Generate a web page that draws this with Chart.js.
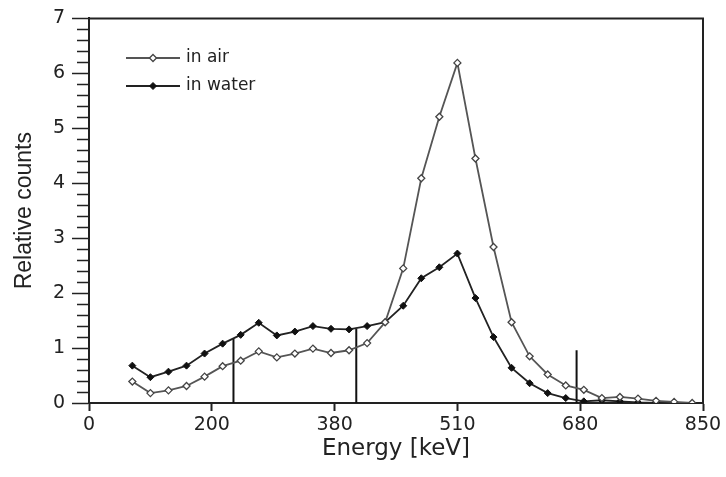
<!DOCTYPE html>
<html>
<head>
<meta charset="utf-8">
<script src="https://cdn.jsdelivr.net/npm/chart.js@4"></script>
<style>
  html, body { margin: 0; padding: 0; background: #fff; }
  #wrap { width: 726px; height: 477px; }
</style>
</head>
<body>
<div id="wrap"><canvas id="myChart" width="726" height="477"></canvas></div>
<script>
const energies = [60, 85, 110, 135, 160, 185, 210, 235, 260, 285, 310, 335, 360, 385, 410, 435,
    460, 485, 510, 535, 560, 585, 610, 635, 660, 685, 710, 735, 760, 785, 810, 835];
const inAir = [0.39, 0.18, 0.23, 0.31, 0.48, 0.67, 0.77, 0.94, 0.83, 0.90, 0.99, 0.91, 0.96, 1.09, 1.47, 2.45,
    4.09, 5.21, 6.19, 4.45, 2.84, 1.47, 0.85, 0.52, 0.32, 0.24, 0.09, 0.11, 0.08, 0.04, 0.02, 0.0];
const inWater = [0.68, 0.47, 0.57, 0.68, 0.90, 1.08, 1.24, 1.46, 1.23, 1.30, 1.40, 1.35, 1.34, 1.40, 1.47, 1.77,
    2.27, 2.47, 2.72, 1.91, 1.20, 0.64, 0.36, 0.18, 0.09, 0.03, 0.05, 0.03, 0.01, 0.0, 0.0];
const xTickLabels = ['0', '200', '380', '510', '680', '850'];
// energy window markers
const windowEdges = [200, 370, 675];
const windowHeights = [1.17, 1.35, 0.96];

const toPoints = (ys) => ys.map((y, i) => ({x: energies[i], y: y}));

const datasets = [
    {
        label: 'in air',
        data: toPoints(inAir),
        borderColor: '#555',
        borderWidth: 1.8,
        pointStyle: 'rectRot',
        pointRadius: 3.5,
        pointBackgroundColor: '#fff',
        pointBorderColor: '#444',
        pointBorderWidth: 1.3,
    },
    {
        label: 'in water',
        data: toPoints(inWater),
        borderColor: '#222',
        borderWidth: 1.8,
        pointStyle: 'rectRot',
        pointRadius: 3.5,
        pointBackgroundColor: '#111',
        pointBorderColor: '#111',
        pointBorderWidth: 1,
    },
];
windowEdges.forEach((e, i) => {
    datasets.push({
        label: 'window' + i,
        data: [{x: e, y: 0}, {x: e, y: windowHeights[i]}],
        borderColor: '#111',
        borderWidth: 2,
        pointRadius: 0,
    });
});

const frameAndTicks = {
    id: 'frameAndTicks',
    afterDraw(chart) {
        const {ctx, chartArea: a, scales: {y}} = chart;
        ctx.save();
        ctx.strokeStyle = '#222';
        ctx.lineWidth = 2;
        ctx.beginPath();
        ctx.moveTo(a.left, a.top);
        ctx.lineTo(a.right, a.top);
        ctx.lineTo(a.right, a.bottom);
        ctx.stroke();
        // minor ticks on y
        ctx.lineWidth = 1.5;
        ctx.beginPath();
        for (let v = 0.2; v < 7; v += 0.2) {
            if (Math.abs(v - Math.round(v)) < 0.01) continue;
            const py = Math.round(y.getPixelForValue(v)) + 0.5;
            ctx.moveTo(a.left - 12, py);
            ctx.lineTo(a.left, py);
        }
        ctx.stroke();
        // legend
        const items = [
            {text: 'in air', y: 58, ds: datasets[0]},
            {text: 'in water', y: 86, ds: datasets[1]},
        ];
        ctx.font = '17px "DejaVu Sans"';
        ctx.textBaseline = 'middle';
        items.forEach(it => {
            ctx.strokeStyle = it.ds.borderColor;
            ctx.lineWidth = 1.8;
            ctx.beginPath();
            ctx.moveTo(126, it.y);
            ctx.lineTo(180, it.y);
            ctx.stroke();
            ctx.fillStyle = it.ds.pointBackgroundColor;
            ctx.strokeStyle = it.ds.pointBorderColor;
            ctx.lineWidth = it.ds.pointBorderWidth;
            Chart.helpers.drawPoint(ctx, {pointStyle: 'rectRot', radius: 3.5, rotation: 0, borderWidth: it.ds.pointBorderWidth}, 153, it.y);
            ctx.fillStyle = '#222';
            ctx.fillText(it.text, 186, it.y);
        });
        ctx.restore();
    }
};

const config = {
    type: 'line',
    data: {datasets},
    options: {
        responsive: false,
        animation: false,
        layout: {padding: {left: 0, top: 15, right: 23, bottom: 0}},
        scales: {
            x: {
                type: 'linear',
                min: 0,
                max: 850,
                afterFit: (s) => { s.height = 74; },
                ticks: {
                    stepSize: 170,
                    padding: 3,
                    color: '#222',
                    font: {family: 'DejaVu Sans', size: 19},
                    callback: (v, i) => xTickLabels[i],
                },
                grid: {drawOnChartArea: false, tickLength: 8, tickWidth: 2, tickColor: '#222'},
                border: {color: '#222', width: 2},
                title: {
                    display: true,
                    text: 'Energy [keV]',
                    color: '#222',
                    font: {family: 'DejaVu Sans', size: 23},
                    padding: {top: 0, bottom: 14},
                },
            },
            y: {
                min: 0,
                max: 7,
                afterFit: (s) => { s.width = 89; },
                ticks: {
                    stepSize: 1,
                    padding: 7,
                    color: '#222',
                    font: {family: 'DejaVu Sans', size: 19},
                },
                grid: {drawOnChartArea: false, tickLength: 17, tickWidth: 1.5, tickColor: '#222'},
                border: {color: '#222', width: 2},
                title: {
                    display: true,
                    text: 'Relative counts',
                    color: '#222',
                    font: {family: 'Liberation Sans', size: 23},
                    padding: {top: 11, bottom: 0},
                },
            },
        },
        plugins: {
            legend: {display: false},
            tooltip: {enabled: false},
        },
    },
    plugins: [frameAndTicks],
};

const myChart = new Chart(document.getElementById('myChart'), config);
</script>
</body>
</html>
